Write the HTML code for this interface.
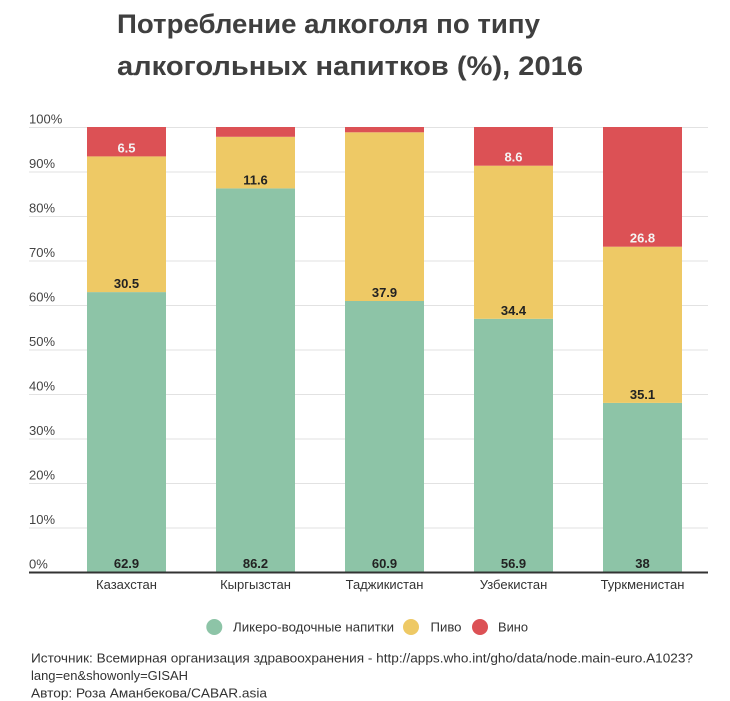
<!DOCTYPE html>
<html><head><meta charset="utf-8"><style>
html,body{margin:0;padding:0;background:#fff;}
svg{display:block;}
text{font-family:"Liberation Sans",sans-serif;}
</style></head><body>
<svg width="730" height="701" viewBox="0 0 730 701" xmlns="http://www.w3.org/2000/svg">
<rect width="730" height="701" fill="#fff"/>
<!-- title -->
<text x="117" y="33" font-size="27" font-weight="bold" fill="#3f3f3f" textLength="423" lengthAdjust="spacingAndGlyphs">Потребление алкоголя по типу</text>
<text x="117" y="75" font-size="27" font-weight="bold" fill="#3f3f3f" textLength="466" lengthAdjust="spacingAndGlyphs">алкогольных напитков (%), 2016</text>
<!-- gridlines -->
<g stroke="#e2e2e2" stroke-width="1">
<line x1="29" x2="708" y1="127.5" y2="127.5"/>
<line x1="29" x2="708" y1="172" y2="172"/>
<line x1="29" x2="708" y1="216.5" y2="216.5"/>
<line x1="29" x2="708" y1="261" y2="261"/>
<line x1="29" x2="708" y1="305.5" y2="305.5"/>
<line x1="29" x2="708" y1="350" y2="350"/>
<line x1="29" x2="708" y1="394.5" y2="394.5"/>
<line x1="29" x2="708" y1="439" y2="439"/>
<line x1="29" x2="708" y1="483.5" y2="483.5"/>
<line x1="29" x2="708" y1="528" y2="528"/>
</g>
<!-- y labels -->
<g font-size="13" fill="#444">
<text x="29" y="123.5">100%</text>
<text x="29" y="168">90%</text>
<text x="29" y="212.5">80%</text>
<text x="29" y="257">70%</text>
<text x="29" y="301.5">60%</text>
<text x="29" y="346">50%</text>
<text x="29" y="390.5">40%</text>
<text x="29" y="435">30%</text>
<text x="29" y="479.5">20%</text>
<text x="29" y="524">10%</text>
<text x="29" y="568.5">0%</text>
</g>
<!-- bars -->
<g>
<rect x="87" y="292.1" width="79" height="279.9" fill="#8dc4a7"/>
<rect x="87" y="156.4" width="79" height="135.7" fill="#eec965"/>
<rect x="87" y="127" width="79" height="29.4" fill="#dc5155"/>
<rect x="216" y="188.4" width="79" height="383.6" fill="#8dc4a7"/>
<rect x="216" y="136.8" width="79" height="51.6" fill="#eec965"/>
<rect x="216" y="127" width="79" height="9.8" fill="#dc5155"/>
<rect x="345" y="301" width="79" height="271" fill="#8dc4a7"/>
<rect x="345" y="132.3" width="79" height="168.7" fill="#eec965"/>
<rect x="345" y="127" width="79" height="5.3" fill="#dc5155"/>
<rect x="474" y="318.8" width="79" height="253.2" fill="#8dc4a7"/>
<rect x="474" y="165.7" width="79" height="153.1" fill="#eec965"/>
<rect x="474" y="127" width="79" height="38.7" fill="#dc5155"/>
<rect x="603" y="402.9" width="79" height="169.1" fill="#8dc4a7"/>
<rect x="603" y="246.7" width="79" height="156.2" fill="#eec965"/>
<rect x="603" y="127" width="79" height="119.7" fill="#dc5155"/>
</g>
<!-- axis -->
<rect x="29" y="571.5" width="679" height="2" fill="#333"/>
<!-- value labels -->
<g font-size="13" font-weight="bold" fill="#222" text-anchor="middle">
<text x="126.5" y="568">62.9</text>
<text x="126.5" y="288">30.5</text>
<text x="255.5" y="568">86.2</text>
<text x="255.5" y="184.4">11.6</text>
<text x="384.5" y="568">60.9</text>
<text x="384.5" y="297">37.9</text>
<text x="513.5" y="568">56.9</text>
<text x="513.5" y="314.8">34.4</text>
<text x="642.5" y="568">38</text>
<text x="642.5" y="398.9">35.1</text>
</g>
<g font-size="13" font-weight="bold" fill="#f4f4f4" text-anchor="middle">
<text x="126.5" y="152.4">6.5</text>
<text x="513.5" y="161.7">8.6</text>
<text x="642.5" y="242.7">26.8</text>
</g>
<!-- x labels -->
<g font-size="13" fill="#333" text-anchor="middle">
<text x="126.5" y="589">Казахстан</text>
<text x="255.5" y="589">Кыргызстан</text>
<text x="384.5" y="589">Таджикистан</text>
<text x="513.5" y="589">Узбекистан</text>
<text x="642.5" y="589">Туркменистан</text>
</g>
<!-- legend -->
<circle cx="214.3" cy="627" r="8" fill="#8dc4a7"/>
<text x="233" y="631.5" font-size="13" fill="#333" textLength="161" lengthAdjust="spacingAndGlyphs">Ликеро-водочные напитки</text>
<circle cx="411" cy="627" r="8" fill="#eec965"/>
<text x="430.5" y="631.5" font-size="13" fill="#333" textLength="31" lengthAdjust="spacingAndGlyphs">Пиво</text>
<circle cx="480" cy="627" r="8" fill="#dc5155"/>
<text x="498" y="631.5" font-size="13" fill="#333" textLength="30" lengthAdjust="spacingAndGlyphs">Вино</text>
<!-- footer -->
<g font-size="13" fill="#333">
<text x="31" y="662.5" textLength="662" lengthAdjust="spacingAndGlyphs">Источник: Всемирная организация здравоохранения - http://apps.who.int/gho/data/node.main-euro.A1023?</text>
<text x="31" y="680" textLength="157" lengthAdjust="spacingAndGlyphs">lang=en&amp;showonly=GISAH</text>
<text x="31" y="697.5" textLength="236" lengthAdjust="spacingAndGlyphs">Автор: Роза Аманбекова/CABAR.asia</text>
</g>
</svg>
</body></html>
